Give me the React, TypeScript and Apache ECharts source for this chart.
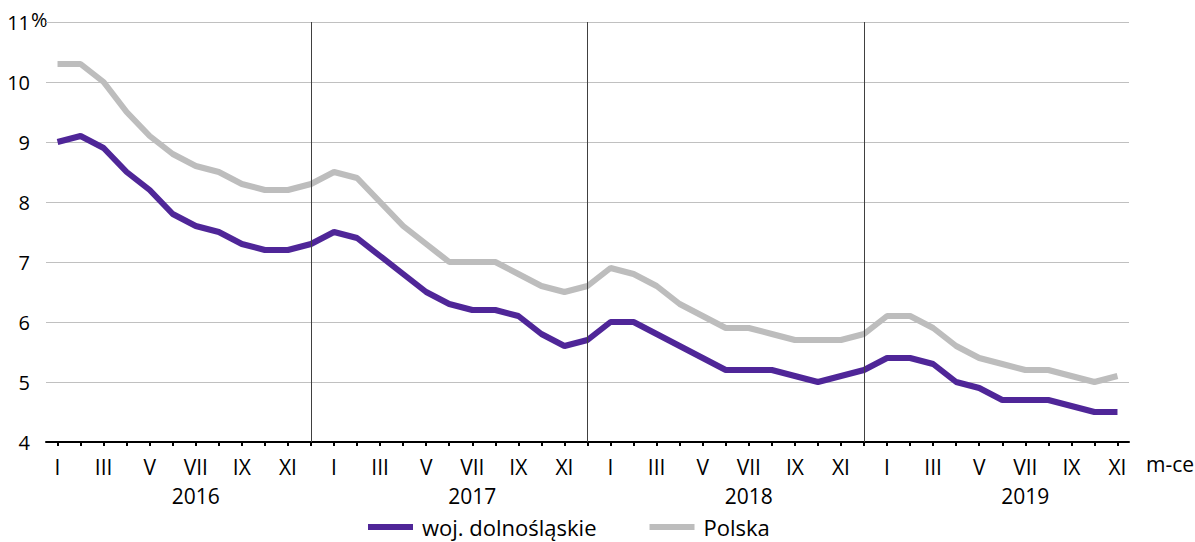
import React, { useEffect, useRef } from "react";
import * as echarts from "echarts";

const years = ["2016", "2017", "2018", "2019"];
const months = ["I", "II", "III", "IV", "V", "VI", "VII", "VIII", "IX", "X", "XI", "XII"];
const monthCount = 47;
const dividerIndices = [11, 23, 35];
const yTicks = [4, 5, 6, 7, 8, 9, 10, 11];

const dolnoslaskie = [
  9.0, 9.1, 8.9, 8.5, 8.2, 7.8, 7.6, 7.5, 7.3, 7.2, 7.2, 7.3,
  7.5, 7.4, 7.1, 6.8, 6.5, 6.3, 6.2, 6.2, 6.1, 5.8, 5.6, 5.7,
  6.0, 6.0, 5.8, 5.6, 5.4, 5.2, 5.2, 5.2, 5.1, 5.0, 5.1, 5.2,
  5.4, 5.4, 5.3, 5.0, 4.9, 4.7, 4.7, 4.7, 4.6, 4.5, 4.5,
];
const polska = [
  10.3, 10.3, 10.0, 9.5, 9.1, 8.8, 8.6, 8.5, 8.3, 8.2, 8.2, 8.3,
  8.5, 8.4, 8.0, 7.6, 7.3, 7.0, 7.0, 7.0, 6.8, 6.6, 6.5, 6.6,
  6.9, 6.8, 6.6, 6.3, 6.1, 5.9, 5.9, 5.8, 5.7, 5.7, 5.7, 5.8,
  6.1, 6.1, 5.9, 5.6, 5.4, 5.3, 5.2, 5.2, 5.1, 5.0, 5.1,
];

const FONT = "Open Sans";

export default function App() {
  const ref = useRef<HTMLDivElement>(null);
  useEffect(() => {
    document.body.style.margin = "0";
    if (!ref.current) return;
    const chart = echarts.init(ref.current, null, { renderer: "svg" });
    const categories: string[] = [];
    for (let i = 0; i < monthCount; i++) {
      categories.push(months[i % 12] + " " + years[Math.floor(i / 12)]);
    }
    chart.setOption({
      animation: false,
      textStyle: { fontFamily: FONT },
      grid: { left: 46, right: 66, top: 22, bottom: 100 },
      legend: {
        left: 363,
        top: 508,
        icon: "rect",
        itemWidth: 45,
        itemHeight: 6,
        itemGap: 53,
        textStyle: { fontSize: 22, lineHeight: 28, color: "#000", fontFamily: FONT, padding: [0, 0, 0, 4] },
        data: ["woj. dolnośląskie", "Polska"],
      },
      xAxis: {
        type: "category",
        data: categories,
        boundaryGap: true,
        axisLine: { lineStyle: { color: "#000", width: 2 } },
        axisTick: { show: true, alignWithLabel: true, interval: 0, length: 4, lineStyle: { color: "#000", width: 2 } },
        axisLabel: {
          interval: 1,
          margin: 10,
          fontSize: 21,
          lineHeight: 29,
          color: "#000",
          fontFamily: FONT,
          formatter: (_v: string, idx: number) => {
            const m = months[idx % 12];
            if (idx % 12 === 6) return m + "\n" + years[Math.floor(idx / 12)];
            return m;
          },
        },
        splitLine: { show: false },
      },
      yAxis: {
        type: "value",
        min: 4,
        max: 11,
        interval: 1,
        axisLine: { show: false },
        axisTick: { show: false },
        axisLabel: {
          margin: 16,
          fontSize: 20,
          color: "#000",
          fontFamily: FONT,
          formatter: (v: number) => (yTicks.includes(v) ? String(v) : ""),
        },
        splitLine: { lineStyle: { color: "#c0c0c0", width: 1 } },
      },
      graphic: [
        {
          type: "text",
          left: 31,
          top: 9,
          style: { text: "%", fontSize: 20, fill: "#000", fontFamily: FONT },
        },
        {
          type: "text",
          left: 1146,
          top: 453,
          style: { text: "m-ce", fontSize: 21, fill: "#000", fontFamily: FONT },
        },
      ],
      series: [
        {
          name: "woj. dolnośląskie",
          type: "line",
          data: dolnoslaskie,
          symbol: "none",
          lineStyle: { color: "#4f2698", width: 6 },
          itemStyle: { color: "#4f2698" },
          z: 3,
          markLine: {
            silent: true,
            symbol: "none",
            label: { show: false },
            lineStyle: { color: "#404040", width: 1, type: "solid" },
            data: dividerIndices.map((i) => ({ xAxis: i })),
          },
        },
        {
          name: "Polska",
          type: "line",
          data: polska,
          symbol: "none",
          lineStyle: { color: "#bdbdbd", width: 6 },
          itemStyle: { color: "#bdbdbd" },
          z: 2,
        },
      ],
    });
    return () => chart.dispose();
  }, []);
  return <div ref={ref} style={{ width: 1195, height: 542 }} />;
}
